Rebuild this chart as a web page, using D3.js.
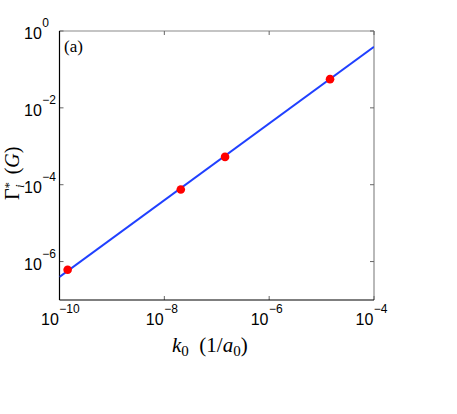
<!DOCTYPE html>
<html>
<head>
<meta charset="utf-8">
<script src="https://cdn.jsdelivr.net/npm/d3@7"></script>
<style>
html,body{margin:0;padding:0;background:#fff;}
svg{display:block;}
</style>
</head>
<body>
<svg id="chart" width="457" height="414"></svg>
<script>
// Data
const lineK = [1e-10, 1e-4];
const lineGamma = [4.0e-7, 0.39];
const pointK = [1.43e-10, 2.06e-8, 1.44e-7, 1.45e-5];
const pointGamma = [6.1e-7, 7.5e-5, 5.3e-4, 0.0558];
const xTickExp = [-10, -8, -6, -4];
const yTickExp = [-6, -4, -2, 0];

const svg = d3.select("#chart");
const L = 59.5, R = 374, T = 31, B = 300;
const SANS = "'Liberation Sans', Arial, sans-serif";
const SERIF = "'Liberation Serif', 'Times New Roman', serif";

const x = d3.scaleLog().domain([1e-10, 1e-4]).range([L, R]);
const y = d3.scaleLog().domain([1e-7, 1e0]).range([B, T]);

svg.append("clipPath").attr("id","clip").append("rect")
  .attr("x", L).attr("y", T).attr("width", R-L).attr("height", B-T);

// box: top/right grey
svg.append("line").attr("x1",L).attr("x2",R).attr("y1",T).attr("y2",T)
  .attr("stroke","#8a8a8a").attr("stroke-width",1.2);
svg.append("line").attr("x1",R).attr("x2",R).attr("y1",T).attr("y2",B)
  .attr("stroke","#8a8a8a").attr("stroke-width",1.2);

const tickLen = 4;
// x ticks
xTickExp.forEach(e => {
  const px = x(Math.pow(10, e));
  svg.append("line").attr("x1",px).attr("x2",px).attr("y1",B).attr("y2",B-tickLen)
    .attr("stroke","#666").attr("stroke-width",1);
  svg.append("line").attr("x1",px).attr("x2",px).attr("y1",T).attr("y2",T+tickLen)
    .attr("stroke","#666").attr("stroke-width",1);
  const t = svg.append("text").attr("x", px - 18.5).attr("y", B + 25)
    .attr("text-anchor","start")
    .attr("font-family", SANS)
    .attr("font-size", 16).attr("fill","#000");
  t.append("tspan").text("10");
  t.append("tspan").attr("dy", -12).attr("dx", 0.5).attr("font-size", 12).text("\u2212" + Math.abs(e));
});
// y ticks
yTickExp.forEach(e => {
  const py = y(Math.pow(10, e));
  svg.append("line").attr("x1",L).attr("x2",L+tickLen).attr("y1",py).attr("y2",py)
    .attr("stroke","#666").attr("stroke-width",1);
  svg.append("line").attr("x1",R).attr("x2",R-tickLen).attr("y1",py).attr("y2",py)
    .attr("stroke","#666").attr("stroke-width",1);
  const t = svg.append("text").attr("x", 24).attr("y", py + 8.3)
    .attr("text-anchor","start")
    .attr("font-family", SANS)
    .attr("font-size", 16).attr("fill","#000");
  t.append("tspan").text("10");
  t.append("tspan").attr("dy", -12).attr("dx", 0.5).attr("font-size", 12).text(e === 0 ? "0" : "\u2212" + Math.abs(e));
});

// left/bottom black
svg.append("line").attr("x1",L).attr("x2",L).attr("y1",T).attr("y2",B)
  .attr("stroke","#000").attr("stroke-width",1.2);
svg.append("line").attr("x1",L).attr("x2",R).attr("y1",B).attr("y2",B)
  .attr("stroke","#000").attr("stroke-width",1.2);

// line
const lineData = lineK.map((k,i)=>[k, lineGamma[i]]);
svg.append("path").datum(lineData)
  .attr("clip-path","url(#clip)")
  .attr("fill","none").attr("stroke","#2040ff").attr("stroke-width",2)
  .attr("d", d3.line().x(d=>x(d[0])).y(d=>y(d[1])));

// points
svg.selectAll("circle.pt").data(pointK.map((k,i)=>[k, pointGamma[i]]))
  .enter().append("circle").attr("class","pt")
  .attr("cx", d=>x(d[0])).attr("cy", d=>y(d[1])).attr("r", 4.3)
  .attr("fill","#ff0000");

// (a)
svg.append("text").attr("x", 64).attr("y", 51.5)
  .attr("font-family", SERIF)
  .attr("font-size", 17).attr("fill","#000").text("(a)");

// x label
const xl = svg.append("text").attr("x", 172).attr("y", 352)
  .attr("text-anchor","start")
  .attr("font-family", SERIF)
  .attr("font-size", 21).attr("fill","#000");
xl.append("tspan").attr("font-style","italic").text("k");
xl.append("tspan").attr("font-size", 15).attr("dy", 4).text("0");
xl.append("tspan").attr("dy", -4).text("\u2002(1/");
xl.append("tspan").attr("font-style","italic").text("a");
xl.append("tspan").attr("font-size", 15).attr("dy", 4).text("0");
xl.append("tspan").attr("dy", -4).text(")");

// y label
const yl = svg.append("text")
  .attr("transform", `translate(19,200) rotate(-90)`)
  .attr("text-anchor","start")
  .attr("font-family", SERIF)
  .attr("font-size", 20).attr("fill","#000");
yl.append("tspan").text("\u0393");
yl.append("tspan").attr("font-size", 13).attr("dy", -6).text("*");
yl.append("tspan").attr("font-size", 13).attr("font-style","italic").attr("dx", -6).attr("dy", 11).text("i");
yl.append("tspan").attr("dy", -5).text("\u2002(");
yl.append("tspan").attr("font-style","italic").text("G");
yl.append("tspan").text(")");
</script>
</body>
</html>
